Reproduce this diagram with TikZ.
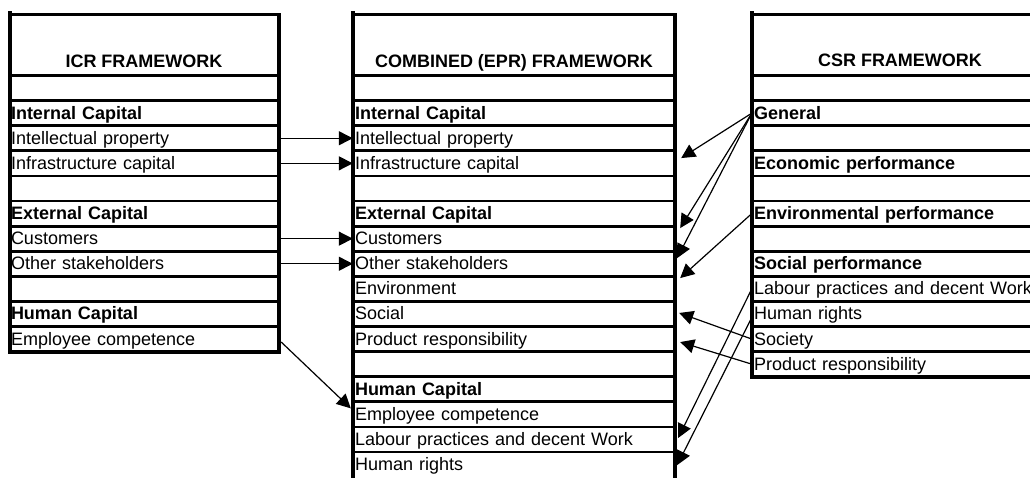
\documentclass[tikz,border=0pt]{standalone}
\usepackage{fontspec}
\setmainfont{Liberation Sans}
\usetikzlibrary{arrows.meta,calc}
\begin{document}
\begin{tikzpicture}[x=1pt,y=-1pt,
  txt/.style={font=\fontsize{18}{21}\selectfont},
  rowcell/.style={txt, draw=none, inner xsep=2pt, inner ysep=0pt, minimum height=25.1pt, text height=14pt, text depth=2pt, align=left},
  icrcell/.style={rowcell, text width=266pt},
  eprcell/.style={rowcell, text width=318pt},
  csrcell/.style={rowcell, text width=292pt},
  headtxt/.style={font=\fontsize{18}{21}\selectfont\bfseries, anchor=base, inner sep=0pt},
  ruleline/.style={line width=2.8pt},
  edgeline/.style={line width=4pt},
  conn/.style={line width=1.2pt, -{Triangle[length=14pt,width=14pt]}},
]
\useasboundingbox (0,0) rectangle (1030,477);
\clip (0,0) rectangle (1030,477);

% ---------- ICR table ----------
\node[headtxt] (icrh) at (144,67) {ICR FRAMEWORK};
\node[icrcell] (i1) at (144,113.15) {\bfseries Internal Capital};
\node[icrcell] (i2) at (144,138.25) {Intellectual property};
\node[icrcell] (i3) at (144,163.35) {Infrastructure capital};
\node[icrcell] (i5) at (144,213.55) {\bfseries External Capital};
\node[icrcell] (i6) at (144,238.65) {Customers};
\node[icrcell] (i7) at (144,263.75) {Other stakeholders};
\node[icrcell] (i9) at (144,313.95) {\bfseries Human Capital};
\node[icrcell] (i10) at (144,339.05) {Employee competence};

% ---------- Combined table ----------
\node[headtxt] (eprh) at (514,67) {COMBINED (EPR) FRAMEWORK};
\node[eprcell] (m1) at (514,113.15) {\bfseries Internal Capital};
\node[eprcell] (m2) at (514,138.25) {Intellectual property};
\node[eprcell] (m3) at (514,163.35) {Infrastructure capital};
\node[eprcell] (m5) at (514,213.55) {\bfseries External Capital};
\node[eprcell] (m6) at (514,238.65) {Customers};
\node[eprcell] (m7) at (514,263.75) {Other stakeholders};
\node[eprcell] (m8) at (514,288.85) {Environment};
\node[eprcell] (m9) at (514,313.95) {Social};
\node[eprcell] (m10) at (514,339.05) {Product responsibility};
\node[eprcell] (m12) at (514,389.25) {\bfseries Human Capital};
\node[eprcell] (m13) at (514,414.35) {Employee competence};
\node[eprcell] (m14) at (514,439.45) {Labour practices and decent Work};
\node[eprcell] (m15) at (514,464.55) {Human rights};

% ---------- CSR table ----------
\node[headtxt] (csrh) at (900,66) {CSR FRAMEWORK};
\node[csrcell] (c1) at (900,113.15) {\bfseries General};
\node[csrcell] (c3) at (900,163.35) {\bfseries Economic performance};
\node[csrcell] (c5) at (900,213.55) {\bfseries Environmental performance};
\node[csrcell] (c7) at (900,263.75) {\bfseries Social performance};
\node[csrcell] (c8) at (900,288.85) {Labour practices and decent Work};
\node[csrcell] (c9) at (900,313.95) {Human rights};
\node[csrcell] (c10) at (900,339.05) {Society};
\node[csrcell] (c11) at (900,364.15) {Product responsibility};

% ---------- end points of connectors ----------
\coordinate (ea) at ($(m3.east)+(6,-5.3)$);
\coordinate (eb) at ($(m6.east)+(5,-10.6)$);
\coordinate (ec) at ($(m7.east)+(2,-5.7)$);
\coordinate (ed) at ($(m8.east)+(5,-10.8)$);
\coordinate (ee) at ($(m9.east)+(4,-1)$);
\coordinate (ef) at ($(m10.east)+(5,3)$);
\coordinate (eg) at ($(m14.east)+(3,-1.5)$);
\coordinate (eh) at ($(m15.east)+(2,0.5)$);
\coordinate (si) at ($(i10.east)+(2,3)$);
\coordinate (ei) at ($(m13.west)+(-2,-6)$);
\coordinate (sh) at ($(c9.west)+(0,3.5)$);

% ---------- connectors ----------
\draw[conn] (i2.east) -- (m2.west);
\draw[conn] (i3.east) -- (m3.west);
\draw[conn] (i6.east) -- (m6.west);
\draw[conn] (i7.east) -- (m7.west);
\draw[conn] (si) -- (ei);

\draw[conn] (c1.west) -- (ea);
\draw[conn] (c1.west) -- (eb);
\draw[conn] (c1.west) -- (ec);
\draw[conn] (c5.west) -- (ed);
\draw[conn] (c10.west) -- (ee);
\draw[conn] (c11.west) -- (ef);
\draw[conn] (c8.west) -- (eg);
\draw[conn] (sh) -- (eh);

% ---------- table rules ----------
% ICR
\draw[ruleline] (9,14.5) -- (279,14.5);
\foreach \k in {0,...,10} \draw[ruleline] (9,{75.5+25.1*\k}) -- (279,{75.5+25.1*\k});
\draw[edgeline] (8,351.6) -- (281,351.6);
\draw[edgeline] (10,11) -- (10,353.5);
\draw[edgeline] (279,13) -- (279,353.5);
% Combined
\draw[ruleline] (353,14.5) -- (675,14.5);
\foreach \k in {0,...,15} \draw[ruleline] (353,{75.5+25.1*\k}) -- (675,{75.5+25.1*\k});
\draw[edgeline] (353,11) -- (353,480);
\draw[edgeline] (675,13) -- (675,480);
% CSR
\draw[ruleline] (752,14.5) -- (1048,14.5);
\foreach \k in {0,...,11} \draw[ruleline] (752,{75.5+25.1*\k}) -- (1048,{75.5+25.1*\k});
\draw[edgeline] (750,376.7) -- (1050,376.7);
\draw[edgeline] (752,11) -- (752,378.6);
\draw[edgeline] (1048,13) -- (1048,378.6);
\end{tikzpicture}
\end{document}
